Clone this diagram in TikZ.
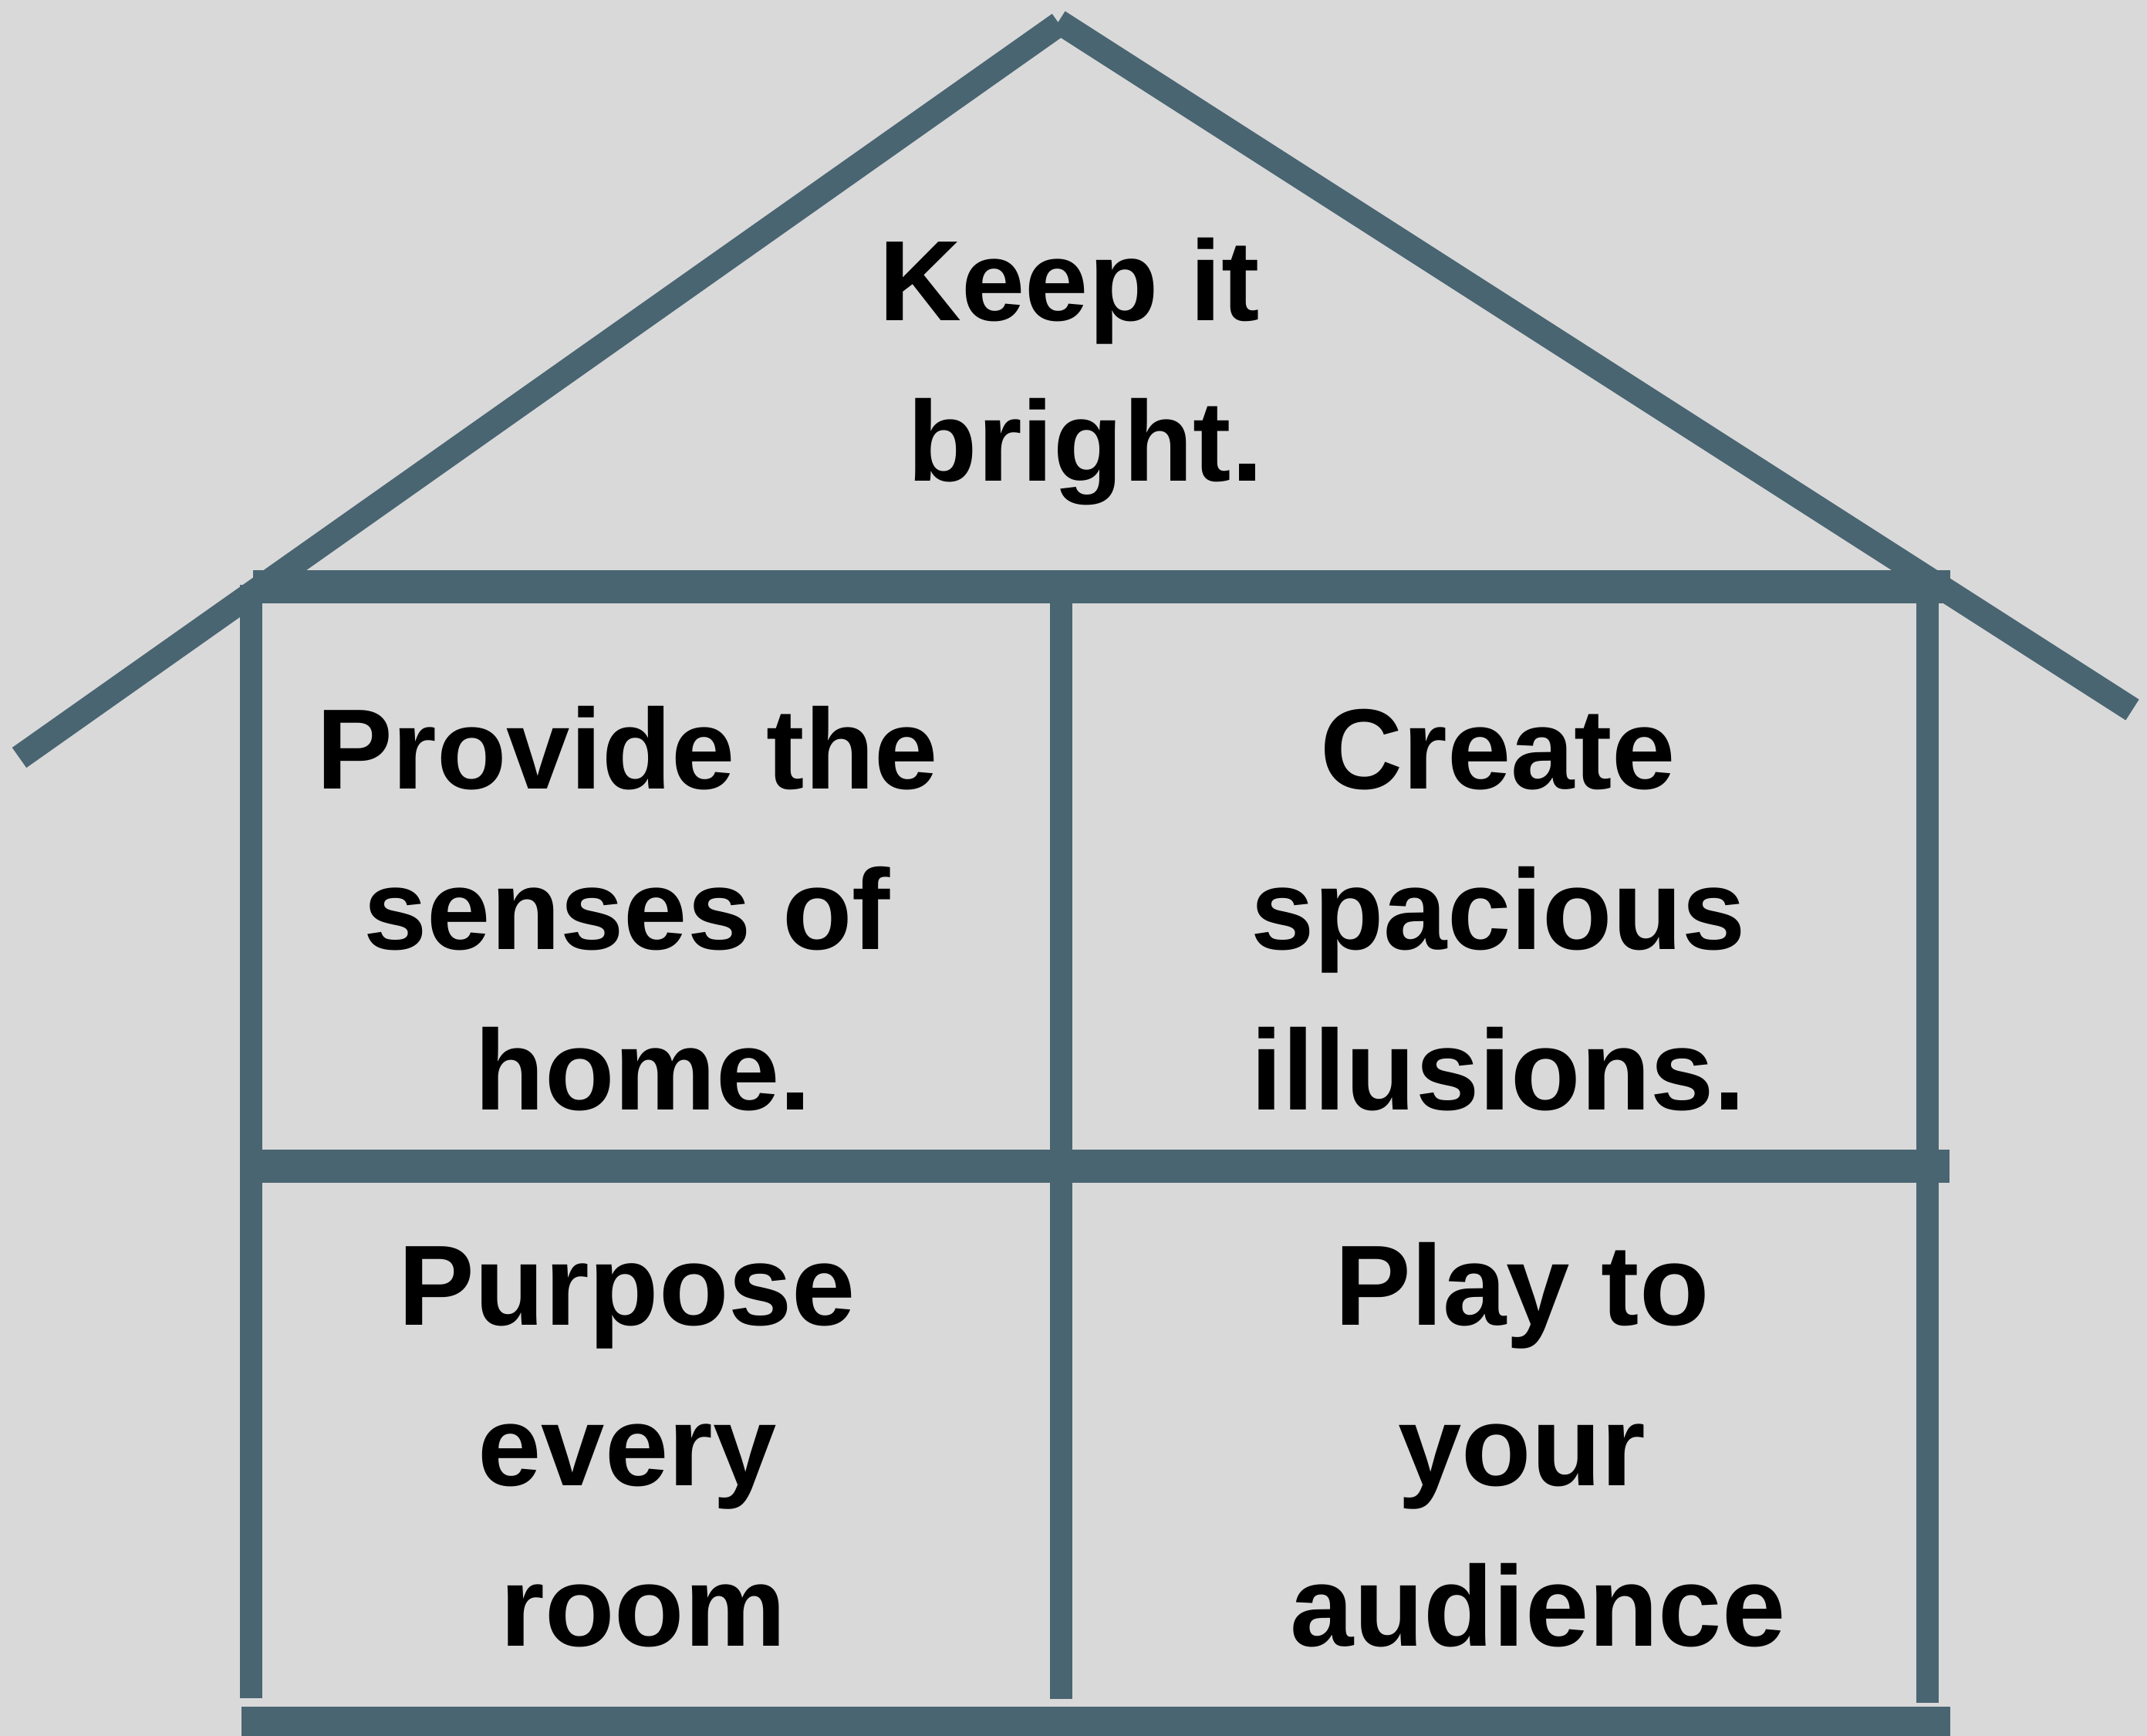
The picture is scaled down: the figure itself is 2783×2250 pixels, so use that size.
\documentclass[tikz,border=0pt]{standalone}
\usepackage{fontspec}
\setmainfont{Liberation Sans}
\definecolor{framecol}{HTML}{4A6572}
\definecolor{bgcol}{HTML}{D9D9D9}
\begin{document}
\begin{tikzpicture}[x=1pt,y=-1pt,
  beam/.style={draw=framecol,line width=43pt},
  wall/.style={draw=framecol,line width=29pt},
  roof/.style={draw=framecol,line width=32pt},
  label/.style={inner sep=0pt,align=center,text=black,anchor=base,
    font=\fontsize{148}{208}\selectfont\bfseries}]
\fill[bgcol] (0,0) rectangle (2783,2250);
\useasboundingbox (0,0) rectangle (2783,2250);
% roof
\coordinate (roofL) at (25,982);
\coordinate (apexA) at (1373,31);
\coordinate (apexB) at (1372,28);
\coordinate (roofR) at (2764,920);
\draw[roof] (roofL) -- (apexA);
\draw[roof] (apexB) -- (roofR);
% walls
\coordinate (lwT) at (325.5,758);  \coordinate (lwB) at (325.5,2201);
\coordinate (mwT) at (1375,760);   \coordinate (mwB) at (1375,2202);
\coordinate (rwT) at (2498.5,760); \coordinate (rwB) at (2498.5,2207);
\draw[wall] (lwT) -- (lwB);
\draw[wall] (mwT) -- (mwB);
\draw[wall] (rwT) -- (rwB);
% beams
\coordinate (tbL) at (328,760.5);  \coordinate (tbR) at (2527.5,760.5);
\coordinate (mbL) at (311,1511.3); \coordinate (mbR) at (2527,1511.3);
\coordinate (bbL) at (313,2233.5); \coordinate (bbR) at (2528,2233.5);
\draw[beam] (tbL) -- (tbR);
\draw[beam] (mbL) -- (mbR);
\draw[beam] (bbL) -- (bbR);
% texts
\node[label] (keep) at (1407,623) {Keep it\hspace*{0.278em}\mbox{}\\bright.};
\node[label] (provide) at (813,1438) {Provide the\\senses of\\\hspace*{0.278em}home.};
\node[label] (create) at (1942,1438) {Create\\spacious\\illusions.};
\node[label] (purpose) at (813,2133) {Purpose\\every\\\hspace*{0.278em}room};
\node[label] (play) at (1973,2133) {Play to\\your\\\hspace*{0.278em}audience};
\end{tikzpicture}
\end{document}
